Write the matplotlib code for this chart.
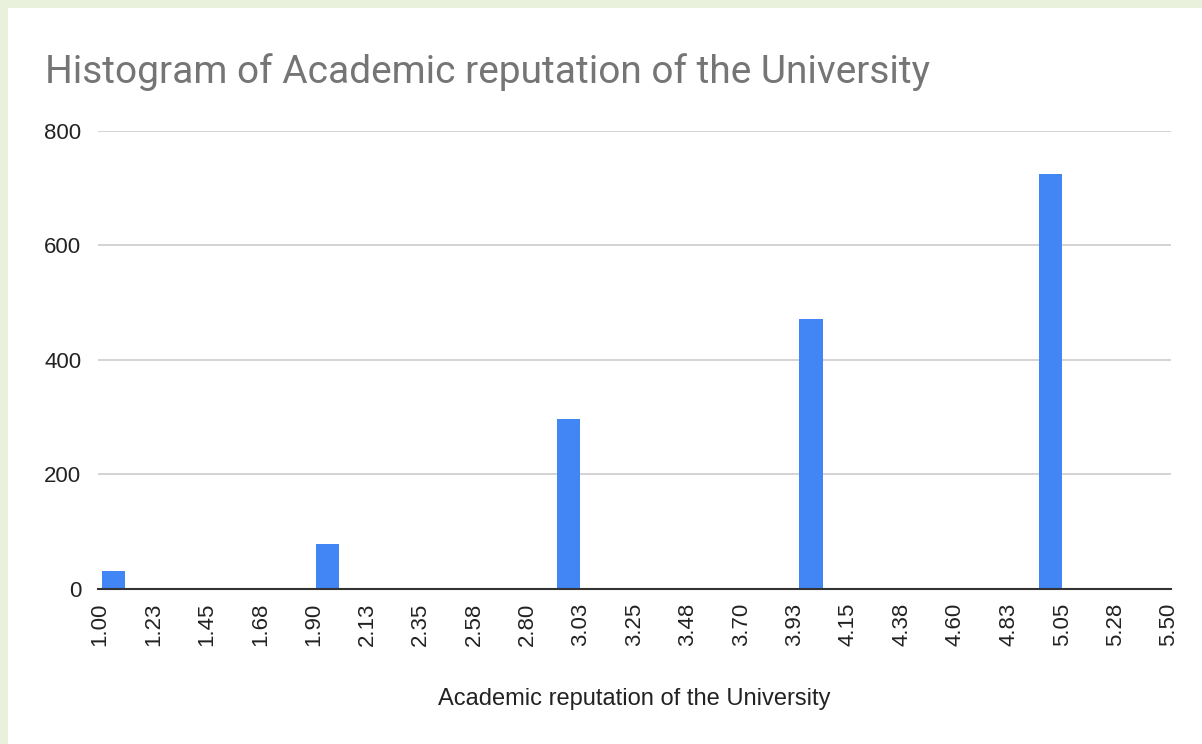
import matplotlib
matplotlib.use("Agg")
import matplotlib.pyplot as plt
from matplotlib.patches import Rectangle

# Data
bin_centers = [1.055, 1.957, 2.972, 3.993, 5.000]
counts = [32, 78, 297, 471, 725]
bar_width = 0.097
x_ticks = [1.00, 1.225, 1.45, 1.675, 1.90, 2.125, 2.35, 2.575, 2.80, 3.025,
           3.25, 3.475, 3.70, 3.925, 4.15, 4.375, 4.60, 4.825, 5.05, 5.275, 5.50]
x_tick_labels = ["1.00", "1.23", "1.45", "1.68", "1.90", "2.13", "2.35", "2.58",
                 "2.80", "3.03", "3.25", "3.48", "3.70", "3.93", "4.15", "4.38",
                 "4.60", "4.83", "5.05", "5.28", "5.50"]
y_ticks = [0, 200, 400, 600, 800]
title = "Histogram of Academic reputation of the University"
x_label = "Academic reputation of the University"

W, H = 1202, 744
fig = plt.figure(figsize=(W / 100, H / 100), dpi=100, facecolor="#e9f0dc")
fig.patches.append(Rectangle((8 / W, 0), 1 - 8 / W, 1 - 8 / H, transform=fig.transFigure,
                             facecolor="white", edgecolor="none", zorder=-10))

left, right, top, bottom = 98, 1171, 130.7, 589
ax = fig.add_axes([left / W, 1 - bottom / H, (right - left) / W, (bottom - top) / H])
ax.set_zorder(2)
ax.set_facecolor("none")

ax.bar(bin_centers, counts, width=bar_width, color="#4285F4", zorder=3)

ax.set_xlim(0.9916, 5.5084)
ax.set_ylim(0, 800)
ax.set_yticks(y_ticks)
ax.set_yticklabels([str(v) for v in y_ticks], fontsize=16, color="#222222",
                   family="Liberation Sans")
ax.set_xticks(x_ticks)
ax.set_xticklabels(x_tick_labels, rotation=90, fontsize=16, color="#222222",
                   family="Liberation Sans")
ax.tick_params(axis="both", length=0)
ax.tick_params(axis="y", pad=12)
ax.tick_params(axis="x", pad=10)

ax.grid(axis="y", color="#cccccc", linewidth=1.2, zorder=0)
ax.set_axisbelow(True)
for s in ["top", "right", "left"]:
    ax.spines[s].set_visible(False)
ax.spines["bottom"].set_color("#333333")
ax.spines["bottom"].set_linewidth(1.5)
ax.spines["bottom"].set_zorder(4)

fig.text(45 / W, 1 - 83 / H, title, fontsize=28, color="#757575",
         family="Roboto", ha="left", va="baseline")
fig.text(634 / W, 1 - 705 / H, x_label, fontsize=17, color="#222222",
         family="Liberation Sans", ha="center", va="baseline")

fig.savefig("out.png", dpi=100, facecolor=fig.get_facecolor())
